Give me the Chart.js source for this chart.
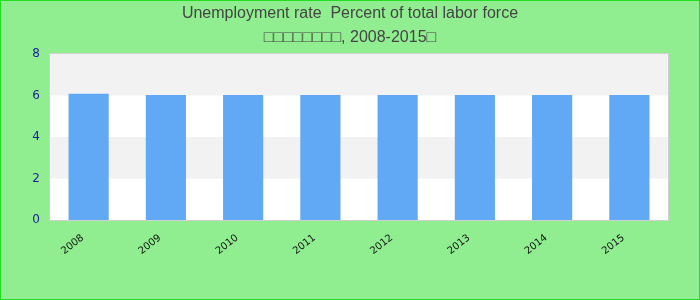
<!DOCTYPE html>
<html>
<head>
<meta charset="utf-8">
<script src="https://cdn.jsdelivr.net/npm/chart.js@4/dist/chart.umd.min.js"></script>
<style>
  html, body { margin: 0; padding: 0; background: #fff; }
  #wrap { width: 700px; height: 300px; box-sizing: border-box; border: 1px solid #22dd22; background: #90ee90; }
</style>
</head>
<body>
<div id="wrap"><canvas id="chart" width="698" height="298"></canvas></div>
<script>
const years = ['2008', '2009', '2010', '2011', '2012', '2013', '2014', '2015'];
const rates = [6.08, 6.03, 6.03, 6.03, 6.03, 6.03, 6.03, 6.03];
const yTicks = [0, 2, 4, 6, 8];
const titleLines = ['Unemployment rate  Percent of total labor force', '□□□□□□□□, 2008-2015□'];

// grey bands behind the bars, every other 2-unit step
const bands = {
    id: 'bands',
    beforeDraw(chart) {
        const { ctx, chartArea: a, scales: { y } } = chart;
        ctx.save();
        ctx.fillStyle = '#ffffff';
        ctx.fillRect(a.left, a.top, a.right - a.left, a.bottom - a.top);
        ctx.fillStyle = '#f2f2f2';
        for (let i = 0; i < yTicks.length - 1; i++) {
            if (i % 2 === 1) {
                const top = y.getPixelForValue(yTicks[i + 1]);
                const bot = y.getPixelForValue(yTicks[i]);
                ctx.fillRect(a.left, top, a.right - a.left, bot - top);
            }
        }
        ctx.strokeStyle = '#d0d0d0';
        ctx.lineWidth = 1;
        ctx.strokeRect(a.left - 0.5, a.top - 0.5, a.right - a.left + 1, a.bottom - a.top + 1);
        ctx.restore();
    }
};

new Chart(document.getElementById('chart'), {
    type: 'bar',
    data: {
        labels: years,
        datasets: [{ data: rates, backgroundColor: '#62a9f5', barPercentage: 0.52, categoryPercentage: 1 }]
    },
    options: {
        responsive: false,
        animation: false,
        layout: { padding: 0 },
        plugins: {
            legend: { display: false },
            tooltip: { enabled: false },
            title: {
                display: true,
                text: titleLines,
                color: '#444444',
                font: { family: 'Liberation Sans', size: 16, weight: 'normal', lineHeight: 1.5 },
                padding: { top: 1, bottom: 4 }
            }
        },
        scales: {
            x: {
                grid: { display: false },
                border: { display: false },
                afterFit(s) { s.height = 79; },
                ticks: {
                    color: '#111',
                    font: { family: 'DejaVu Sans', size: 10 },
                    minRotation: 38, maxRotation: 38, padding: 4, labelOffset: -6
                }
            },
            y: {
                min: 0, max: 8,
                grid: { display: false },
                border: { display: false },
                afterFit(s) { s.width = 49; },
                ticks: {
                    stepSize: 2,
                    color: '#1c1c9a',
                    font: { family: 'DejaVu Sans', size: 12 },
                    padding: 2
                }
            },
            // empty right-hand gutter so the title stays centred on the canvas
            gutter: {
                position: 'right',
                min: 0, max: 8,
                grid: { display: false },
                border: { display: false },
                ticks: { display: false },
                afterFit(s) { s.width = 31; }
            }
        }
    },
    plugins: [bands]
});
</script>
</body>
</html>
